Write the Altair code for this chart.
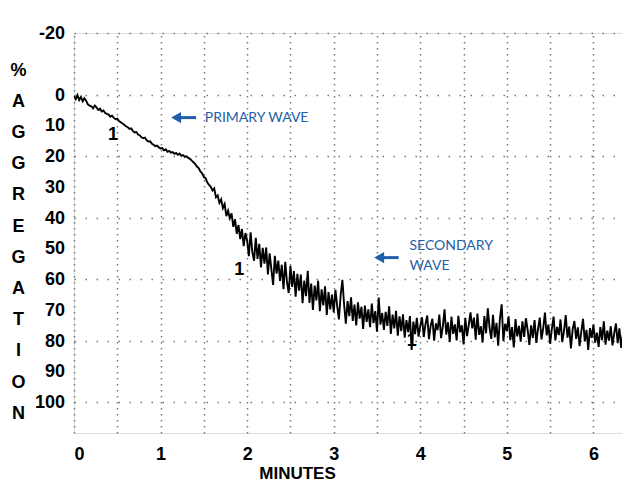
import altair as alt
import pandas as pd

agg = [
    0.5, 1.5, 0.2, 1.8, 0.8, 2.2, 1.2, 2.0, 3.2, 3.6,
    3.8, 4.5, 3.6, 4.2, 5.0, 4.6, 5.5, 5.2, 6.0, 6.3,
    6.5, 7.2, 6.9, 7.6, 8.0, 7.8, 8.6, 9.0, 9.4, 9.8,
    10.3, 10.6, 11.2, 11.0, 11.8, 12.3, 12.2, 13.0, 13.3, 13.9,
    14.2, 14.0, 14.9, 15.3, 15.2, 16.0, 16.3, 16.8, 16.6, 17.2,
    17.5, 17.4, 18.1, 17.8, 18.6, 18.3, 18.9, 18.7, 19.3, 19.0,
    19.6, 19.2, 19.9, 19.7, 20.3, 20.1, 20.6, 20.9, 21.5, 22.0,
    22.6, 23.4, 23.9, 25.0, 25.6, 26.8, 27.2, 28.6, 29.4, 30.0,
    31.2, 30.5, 33.4, 32.8, 35.2, 34.1, 36.9, 35.6, 39.5, 37.8,
    40.2, 38.6, 43.0, 40.5, 45.3, 42.4, 47.0, 43.7, 49.3, 45.0,
    47.5, 52.5, 44.8, 51.2, 54.0, 46.6, 53.4, 48.5, 56.2, 49.8,
    55.0, 49.7, 58.5, 51.6, 56.8, 61.9, 52.4, 58.2, 54.0, 60.6,
    55.3, 63.3, 54.4, 60.9, 64.5, 55.7, 62.5, 57.4, 65.7, 58.3,
    63.7, 58.5, 67.8, 60.5, 65.5, 57.3, 67.7, 61.4, 70.0, 62.1,
    66.9, 60.5, 70.4, 63.3, 68.5, 62.3, 71.6, 64.2, 69.8, 65.0,
    70.8, 63.5, 68.7, 73.1, 65.3, 60.2, 68.2, 74.5, 67.1, 72.0,
    65.9, 73.6, 68.3, 75.0, 67.5, 72.8, 69.0, 76.2, 68.6, 73.9,
    69.8, 75.6, 67.9, 74.3, 70.4, 77.1, 66.0, 74.8, 71.0, 76.5,
    70.6, 75.2, 68.8, 77.8, 71.5, 76.0, 70.3, 78.4, 72.1, 76.9,
    71.4, 79.0, 73.3, 77.2, 72.0, 83.0, 73.8, 77.9, 72.6, 78.7,
    75.2, 72.4, 78.8, 74.6, 71.8, 79.5, 75.1, 72.9, 80.0, 74.4,
    76.6, 71.5, 79.2, 75.4, 69.8, 78.0, 74.0, 80.4, 72.2, 77.8,
    74.7, 79.9, 71.9, 77.3, 75.0, 81.2, 72.6, 78.5, 74.9, 70.8,
    76.0, 72.5, 79.7, 71.2, 78.1, 75.3, 80.6, 72.0, 77.6, 69.5,
    75.8, 79.4, 71.6, 78.9, 74.2, 81.6, 72.8, 68.2, 80.1, 74.5,
    76.9, 72.1, 79.8, 75.6, 82.2, 73.0, 78.6, 75.2, 80.3, 73.7,
    78.8, 72.7, 76.5, 81.4, 75.0, 79.1, 73.3, 80.7, 76.2, 72.5,
    79.6, 75.9, 70.9, 78.3, 74.8, 81.0, 76.1, 72.2, 79.9, 75.5,
    78.2, 73.1, 80.5, 76.8, 71.7, 79.0, 75.4, 82.5, 76.3, 73.6,
    79.4, 75.7, 81.8, 77.0, 72.9, 80.2, 76.5, 83.0, 75.9, 79.1,
    74.8, 80.6, 77.4, 82.0, 75.6, 79.8, 73.7, 81.3, 76.7, 80.0,
    75.3, 81.5, 77.6, 74.4, 80.8, 76.0, 82.3, 77.9, 75.1, 81.7,
    78.5,
]
step = 0.02
minutes = [round(i * step, 2) for i in range(len(agg))]

y_grid = [-20, -10, 0, 10, 20, 30, 40, 50, 60, 70, 80, 90, 100, 110]
y_labels = [-20, 0, 10, 20, 30, 40, 50, 60, 70, 80, 90, 100]
x_ticks = [0, 0.5, 1, 1.5, 2, 2.5, 3, 3.5, 4, 4.5, 5, 5.5, 6]
y_title = ["%", "A", "G", "G", "R", "E", "G", "A", "T", "I", "O", "N"]

# annotation labels "1"
one_x = [0.45, 1.91, 3.90]
one_y = [13.0, 57.0, 80.0]

# blue notes
note_text = ["PRIMARY WAVE", "SECONDARY", "WAVE"]
note_x = [1.51, 3.875, 3.875]
note_y = [7.5, 49.2, 55.7]
arrow_head_x = [1.18, 3.525]
arrow_tail_x = [1.41, 3.75]
arrow_y = [7.5, 53.0]

BLUE = "#1f5ea8"
FONT = "Liberation Sans, Arial, sans-serif"

df = pd.DataFrame({"t": minutes, "agg": agg})
ones = pd.DataFrame({"t": one_x, "agg": one_y, "txt": ["1"] * 3})
notes = pd.DataFrame({"t": note_x, "agg": note_y, "txt": note_text})
arrows = pd.DataFrame({"t": arrow_head_x, "t2": arrow_tail_x, "agg": arrow_y})
ylab = pd.DataFrame({"agg": y_labels, "txt": [str(v) for v in y_labels]})

xs = alt.Scale(domain=[0, 6.33], nice=False, zero=False)
ys = alt.Scale(domain=[-20, 110], nice=False, zero=False, reverse=True)

x_axis = alt.Axis(
    values=x_ticks,
    labelExpr="datum.value % 1 == 0 ? '' + datum.value : ''",
    labelOverlap=False,
    grid=True, gridDash=[1.5, 4.5], gridColor="#777777", gridWidth=1.5,
    ticks=False, domain=False,
    labelFont=FONT, labelFontWeight="bold", labelFontSize=18, labelColor="black",
    labelPadding=12,
    title="MINUTES", titleFont=FONT, titleFontWeight="bold", titleFontSize=17,
    titleColor="black", titleX=223, titleY=45, titleBaseline="alphabetic",
)
y_axis = alt.Axis(
    values=y_grid,
    labels=False,
    grid=True, gridDash=[1.5, 9.5], gridColor="#777777", gridWidth=1.5,
    ticks=False, domain=False,
    title=y_title, titleAngle=0, titleFont=FONT, titleFontWeight="bold",
    titleFontSize=18, titleColor="black", titleLineHeight=31.2,
    titleX=-56, titleY=28, titleAlign="center", titleBaseline="top",
)

line = alt.Chart(df).mark_line(color="black", strokeWidth=1.9, clip=True).encode(
    x=alt.X("t:Q", scale=xs, axis=x_axis),
    y=alt.Y("agg:Q", scale=ys, axis=y_axis),
)

ylab_marks = alt.Chart(ylab).mark_text(
    font=FONT, fontWeight="bold", fontSize=18, color="black",
    align="right", baseline="middle", dy=1
).encode(x=alt.value(-9), y=alt.Y("agg:Q", scale=ys), text="txt:N")

one_marks = alt.Chart(ones).mark_text(
    font=FONT, fontWeight="bold", fontSize=18, color="black"
).encode(x=alt.X("t:Q", scale=xs), y=alt.Y("agg:Q", scale=ys), text="txt:N")

note_marks = alt.Chart(notes).mark_text(
    font="Lato, Open Sans, sans-serif", fontSize=14, color=BLUE, align="left"
).encode(x=alt.X("t:Q", scale=xs), y=alt.Y("agg:Q", scale=ys), text="txt:N")

arrow_shaft = alt.Chart(arrows).mark_rule(color=BLUE, strokeWidth=3).encode(
    x=alt.X("t:Q", scale=xs), x2="t2:Q", y=alt.Y("agg:Q", scale=ys)
)
arrow_head = alt.Chart(arrows).mark_point(
    shape="triangle-left", filled=True, color=BLUE, size=130, opacity=1
).encode(x=alt.X("t:Q", scale=xs), y=alt.Y("agg:Q", scale=ys))

chart = alt.layer(
    line, ylab_marks, one_marks, arrow_shaft, arrow_head, note_marks
).properties(
    width=548, height=400,
    autosize=alt.AutoSizeParams(type="none"),
    padding={"left": 66, "top": 25, "right": 0, "bottom": 48},
).configure_view(stroke=None).configure(background="white")

chart.save("out.html", embed_options={"renderer": "svg", "actions": False})
